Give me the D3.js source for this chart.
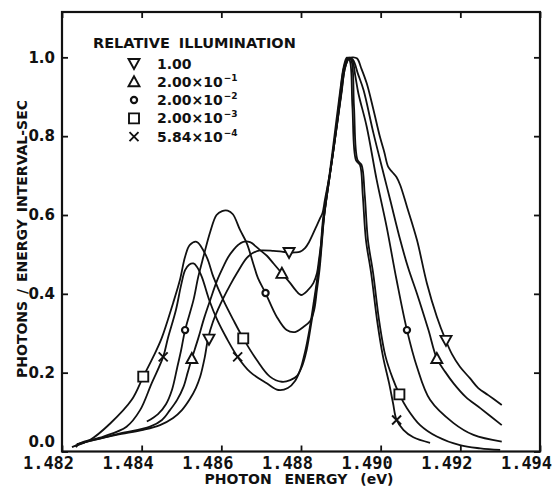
<!DOCTYPE html>
<html>
<head>
<meta charset="utf-8">
<script src="https://cdn.jsdelivr.net/npm/d3@7"></script>
<style>
  body { margin: 0; background: #fff; }
  text { font-family: "DejaVu Sans", sans-serif; font-weight: bold; fill: #111; }
</style>
</head>
<body>
<div id="chart"></div>
<script>
// axis ticks
const xTicks = [1.482, 1.484, 1.486, 1.488, 1.490, 1.492, 1.494];
const yTicks = [0.0, 0.2, 0.4, 0.6, 0.8, 1.0];

// legend (relative illumination)
const legendSymbols = ["nabla", "delta", "circle", "square", "cross"];
const legendValues = ["1.00", "2.00\u00d710", "2.00\u00d710", "2.00\u00d710", "5.84\u00d710"];
const legendExponents = ["", "\u22121", "\u22122", "\u22123", "\u22124"];

// spectra: [photon energy (eV), photons / energy interval-sec]
const curveNabla = [[1.48225,0.011],[1.48262,0.025],[1.48337,0.042],[1.48404,0.055],[1.48446,0.067],[1.48479,0.085],[1.48501,0.105],[1.48521,0.133],[1.48536,0.161],[1.48547,0.190],[1.48558,0.237],[1.48567,0.288],[1.48579,0.329],[1.48592,0.361],[1.48605,0.389],[1.48622,0.422],[1.48639,0.452],[1.48664,0.491],[1.48680,0.504],[1.48697,0.510],[1.48731,0.509],[1.48752,0.507],[1.48770,0.505],[1.48785,0.505],[1.48798,0.507],[1.48810,0.516],[1.48820,0.531],[1.48830,0.552],[1.48839,0.572],[1.48848,0.592],[1.48854,0.605],[1.48860,0.638],[1.48874,0.714],[1.48891,0.836],[1.48902,0.917],[1.48911,0.975],[1.48921,0.998],[1.48931,1.000],[1.48941,0.997],[1.48951,0.973],[1.48965,0.934],[1.48981,0.871],[1.48998,0.799],[1.49009,0.760],[1.49019,0.722],[1.49029,0.709],[1.49040,0.696],[1.49049,0.676],[1.49066,0.621],[1.49091,0.537],[1.49116,0.427],[1.49141,0.342],[1.49163,0.283],[1.49179,0.247],[1.49199,0.215],[1.49224,0.186],[1.49245,0.161],[1.49270,0.143],[1.49304,0.118]];
const curveDelta = [[1.48237,0.019],[1.48279,0.029],[1.48346,0.046],[1.48421,0.063],[1.48451,0.080],[1.48471,0.105],[1.48489,0.131],[1.48505,0.164],[1.48516,0.202],[1.48526,0.236],[1.48542,0.287],[1.48557,0.339],[1.48572,0.384],[1.48589,0.433],[1.48605,0.469],[1.48617,0.493],[1.48630,0.511],[1.48642,0.524],[1.48655,0.532],[1.48672,0.531],[1.48697,0.511],[1.48715,0.496],[1.48731,0.477],[1.48752,0.452],[1.48773,0.427],[1.48786,0.410],[1.48800,0.397],[1.48818,0.410],[1.48831,0.427],[1.48840,0.452],[1.48845,0.486],[1.48850,0.524],[1.48857,0.592],[1.48874,0.712],[1.48891,0.833],[1.48902,0.912],[1.48911,0.975],[1.48922,0.999],[1.48931,0.993],[1.48943,0.958],[1.48957,0.917],[1.48982,0.807],[1.49007,0.706],[1.49024,0.638],[1.49049,0.537],[1.49069,0.466],[1.49091,0.401],[1.49120,0.308],[1.49141,0.236],[1.49162,0.202],[1.49183,0.173],[1.49214,0.138],[1.49250,0.110],[1.49304,0.067]];
const curveCircle = [[1.48413,0.076],[1.48441,0.095],[1.48461,0.120],[1.48476,0.156],[1.48489,0.212],[1.48499,0.257],[1.48509,0.308],[1.48530,0.384],[1.48542,0.443],[1.48555,0.494],[1.48572,0.557],[1.48588,0.600],[1.48602,0.610],[1.48616,0.611],[1.48629,0.602],[1.48647,0.562],[1.48664,0.528],[1.48680,0.477],[1.48692,0.440],[1.48711,0.402],[1.48739,0.342],[1.48764,0.308],[1.48785,0.303],[1.48806,0.316],[1.48823,0.331],[1.48833,0.359],[1.48840,0.410],[1.48847,0.466],[1.48853,0.537],[1.48859,0.605],[1.48874,0.712],[1.48891,0.833],[1.48901,0.912],[1.48909,0.975],[1.48919,0.999],[1.48928,0.995],[1.48936,0.955],[1.48944,0.909],[1.48965,0.824],[1.48990,0.689],[1.49015,0.570],[1.49040,0.435],[1.49066,0.308],[1.49091,0.215],[1.49124,0.131],[1.49183,0.072],[1.49233,0.042],[1.49304,0.025]];
const curveSquare = [[1.48233,0.014],[1.48270,0.029],[1.48321,0.071],[1.48375,0.131],[1.48404,0.190],[1.48429,0.240],[1.48450,0.287],[1.48479,0.377],[1.48496,0.435],[1.48509,0.494],[1.48521,0.524],[1.48538,0.532],[1.48563,0.494],[1.48580,0.443],[1.48605,0.384],[1.48630,0.334],[1.48655,0.287],[1.48689,0.232],[1.48722,0.190],[1.48752,0.177],[1.48773,0.181],[1.48790,0.192],[1.48803,0.217],[1.48813,0.252],[1.48823,0.308],[1.48833,0.372],[1.48843,0.448],[1.48850,0.511],[1.48857,0.587],[1.48873,0.706],[1.48890,0.833],[1.48899,0.912],[1.48908,0.975],[1.48918,0.999],[1.48926,0.993],[1.48933,0.876],[1.48942,0.739],[1.48952,0.727],[1.48960,0.651],[1.48968,0.537],[1.48981,0.453],[1.48997,0.326],[1.49012,0.242],[1.49030,0.186],[1.49047,0.145],[1.49066,0.110],[1.49099,0.067],[1.49141,0.038],[1.49199,0.016],[1.49250,0.008],[1.49300,0.004]];
const curveCross = [[1.48235,0.011],[1.48245,0.021],[1.48304,0.038],[1.48362,0.063],[1.48396,0.105],[1.48425,0.173],[1.48454,0.240],[1.48466,0.288],[1.48486,0.359],[1.48499,0.422],[1.48509,0.460],[1.48519,0.474],[1.48530,0.477],[1.48539,0.468],[1.48551,0.443],[1.48570,0.383],[1.48590,0.333],[1.48614,0.286],[1.48641,0.240],[1.48672,0.202],[1.48714,0.173],[1.48743,0.156],[1.48767,0.161],[1.48785,0.179],[1.48798,0.207],[1.48810,0.252],[1.48821,0.308],[1.48831,0.372],[1.48842,0.448],[1.48849,0.511],[1.48855,0.587],[1.48872,0.706],[1.48888,0.833],[1.48898,0.912],[1.48907,0.975],[1.48915,0.999],[1.48922,0.993],[1.48929,0.876],[1.48938,0.739],[1.48948,0.727],[1.48955,0.651],[1.48963,0.537],[1.48976,0.453],[1.48992,0.326],[1.49006,0.240],[1.49021,0.174],[1.49031,0.123],[1.49040,0.080],[1.49057,0.055],[1.49082,0.036],[1.49124,0.022]];

// where each curve carries its symbol
const marksNabla = [[1.48569,0.285],[1.48770,0.505],[1.49164,0.282]];
const marksDelta = [[1.48526,0.236],[1.48752,0.452],[1.49141,0.236]];
const marksCircle = [[1.48509,0.308],[1.48711,0.402],[1.49066,0.308]];
const marksSquare = [[1.48404,0.190],[1.48655,0.287],[1.49047,0.145]];
const marksCross = [[1.48454,0.240],[1.48641,0.240],[1.49040,0.080]];

const series = [
    { sym: "nabla", pts: curveNabla, marks: marksNabla },
    { sym: "delta", pts: curveDelta, marks: marksDelta },
    { sym: "circle", pts: curveCircle, marks: marksCircle },
    { sym: "square", pts: curveSquare, marks: marksSquare },
    { sym: "cross", pts: curveCross, marks: marksCross }
];

// set the dimensions and margins of the graph
const W = 552, H = 489;
const margin = { top: 12, right: 12, bottom: 37.5, left: 62 };
const yMax = 1.115;

const svg = d3.select("#chart")
    .append("svg")
    .attr("width", W)
    .attr("height", H);

const x = d3.scaleLinear()
    .domain([1.482, 1.494])
    .range([margin.left, W - margin.right]);
const y = d3.scaleLinear()
    .domain([0, yMax])
    .range([H - margin.bottom, margin.top]);

function symbolPath(sym) {
    if (sym === "nabla") return "M-5.5,-4.5L5.5,-4.5L0,5.5Z";
    if (sym === "delta") return "M-5.5,4.5L5.5,4.5L0,-5.5Z";
    if (sym === "square") return "M-5,-5H5V5H-5Z";
    if (sym === "cross") return "M-4.5,-4.5L4.5,4.5M-4.5,4.5L4.5,-4.5";
    return d3.symbol(d3.symbolCircle, 30)();
}

// frame
svg.append("rect")
    .attr("x", x(1.482))
    .attr("y", y(yMax))
    .attr("width", x(1.494) - x(1.482))
    .attr("height", y(0) - y(yMax))
    .attr("fill", "none")
    .attr("stroke", "#111")
    .attr("stroke-width", 2.2);

// axes with inward ticks
const xAxis = svg.append("g")
    .attr("transform", `translate(0, ${y(0)})`)
    .call(d3.axisBottom(x).tickValues(xTicks).tickSize(-6).tickSizeOuter(0)
        .tickPadding(5).tickFormat(d3.format(".3f")));
xAxis.selectAll("text")
    .attr("dx", -14)
    .style("font-family", "'DejaVu Sans Mono', monospace")
    .style("font-size", "17px");

svg.append("g")
    .attr("transform", `translate(0, ${y(yMax)})`)
    .call(d3.axisTop(x).tickValues(xTicks).tickSize(-6).tickSizeOuter(0).tickFormat(""));

const yAxis = svg.append("g")
    .attr("transform", `translate(${x(1.482)}, 0)`)
    .call(d3.axisLeft(y).tickValues(yTicks).tickSize(-6).tickSizeOuter(0)
        .tickPadding(7).tickFormat(d3.format(".1f")));
yAxis.selectAll("text")
    .attr("dy", d => d === 0 ? "-0.35em" : "0.32em")
    .style("font-size", "15px");

svg.append("g")
    .attr("transform", `translate(${x(1.494)}, 0)`)
    .call(d3.axisRight(y).tickValues(yTicks).tickSize(-6).tickSizeOuter(0).tickFormat(""));

svg.selectAll(".domain").remove();
svg.selectAll(".tick line").attr("stroke", "#111").attr("stroke-width", 1.8);

// axis titles
svg.append("text")
    .attr("x", 299)
    .attr("y", 484)
    .attr("text-anchor", "middle")
    .style("font-size", "14px")
    .style("word-spacing", "8px")
    .text("PHOTON ENERGY (eV)");

svg.append("text")
    .attr("transform", "translate(27, 239) rotate(-90)")
    .attr("text-anchor", "middle")
    .style("font-size", "14px")
    .style("word-spacing", "2px")
    .text("PHOTONS / ENERGY INTERVAL-SEC");

// curves
const line = d3.line()
    .x(d => x(d[0]))
    .y(d => y(d[1]))
    .curve(d3.curveCatmullRom.alpha(0.5));

svg.append("g")
    .selectAll("path")
    .data(series)
    .join("path")
    .attr("d", d => line(d.pts))
    .attr("fill", "none")
    .attr("stroke", "#111")
    .attr("stroke-width", 1.8)
    .attr("stroke-linejoin", "round");

// symbols on the curves
series.forEach(function (s) {
    svg.append("g")
        .selectAll("path")
        .data(s.marks)
        .join("path")
        .attr("transform", d => `translate(${x(d[0])}, ${y(d[1])})`)
        .attr("d", symbolPath(s.sym))
        .attr("fill", s.sym === "cross" ? "none" : "#fff")
        .attr("stroke", "#111")
        .attr("stroke-width", s.sym === "circle" ? 2.2 : 1.9);
});

// legend
svg.append("text")
    .attr("x", 93)
    .attr("y", 48)
    .style("font-size", "14.5px")
    .style("word-spacing", "4px")
    .text("RELATIVE ILLUMINATION");

const rowY = d3.scaleLinear().domain([0, 4]).range([63.5, 136.6]);
const legend = svg.append("g")
    .selectAll("g")
    .data(legendSymbols)
    .join("g")
    .attr("transform", (d, i) => `translate(134, ${rowY(i)})`);

legend.append("path")
    .attr("d", d => symbolPath(d))
    .attr("fill", d => d === "cross" ? "none" : "#fff")
    .attr("stroke", "#111")
    .attr("stroke-width", d => d === "circle" ? 2.2 : 1.9);

const legendText = legend.append("text")
    .attr("x", 23)
    .attr("y", 5)
    .style("font-size", "14px");
legendText.append("tspan")
    .text((d, i) => legendValues[i]);
legendText.append("tspan")
    .attr("dx", 1)
    .attr("dy", -6)
    .style("font-size", "9px")
    .text((d, i) => legendExponents[i]);
</script>
</body>
</html>
